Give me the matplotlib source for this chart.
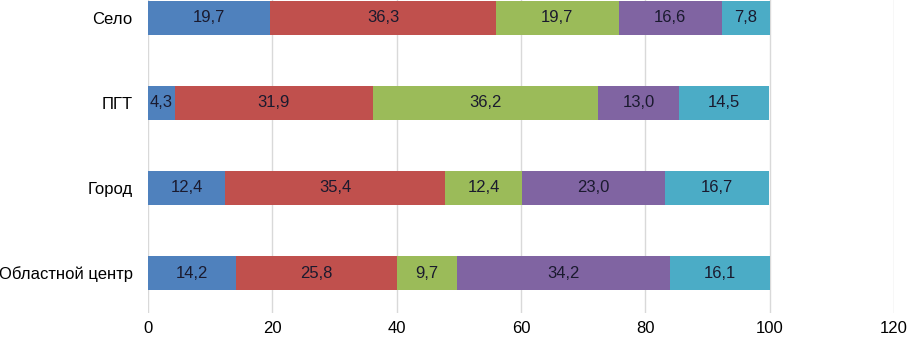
import matplotlib.pyplot as plt
import numpy as np

categories = ["Областной центр", "Город", "ПГТ", "Село"]
series = [
    [14.2, 12.4, 4.3, 19.7],
    [25.8, 35.4, 31.9, 36.3],
    [9.7, 12.4, 36.2, 19.7],
    [34.2, 23.0, 13.0, 16.6],
    [16.1, 16.7, 14.5, 7.8],
]
colors = ["#4F81BD", "#C0504D", "#9BBB59", "#8064A2", "#4BACC6"]
xticks = [0, 20, 40, 60, 80, 100, 120]

plt.rcParams['font.family'] = ['Liberation Sans', 'DejaVu Sans']

fig = plt.figure(figsize=(9.08, 3.41), dpi=100)
ax = fig.add_axes([148 / 908, 1 - 313 / 341, (894 - 148) / 908, 313 / 341])

y = np.arange(len(categories))
left = np.zeros(len(categories))
for vals, col in zip(series, colors):
    vals = np.array(vals)
    bars = ax.barh(y, vals, left=left, height=0.4, color=col, zorder=3)
    for b, v in zip(bars, vals):
        ax.text(b.get_x() + b.get_width() / 2, b.get_y() + b.get_height() / 2,
                f"{v:.1f}".replace(".", ","), ha="center", va="center",
                fontsize=12, color="#1a1a2e", zorder=4)
    left += vals

ax.set_xlim(0, 120)
ax.set_ylim(-0.47, 3.21)
ax.set_xticks(xticks)
ax.set_yticks(y)
ax.set_yticklabels(categories)
ax.tick_params(axis="both", length=0, labelsize=12)
ax.tick_params(axis="x", pad=6)
ax.tick_params(axis="y", pad=11)
ax.grid(axis="x", color="#D9D9D9", linewidth=1, zorder=0)
for s in ax.spines.values():
    s.set_visible(False)

fig.savefig("out.png", dpi=100)
